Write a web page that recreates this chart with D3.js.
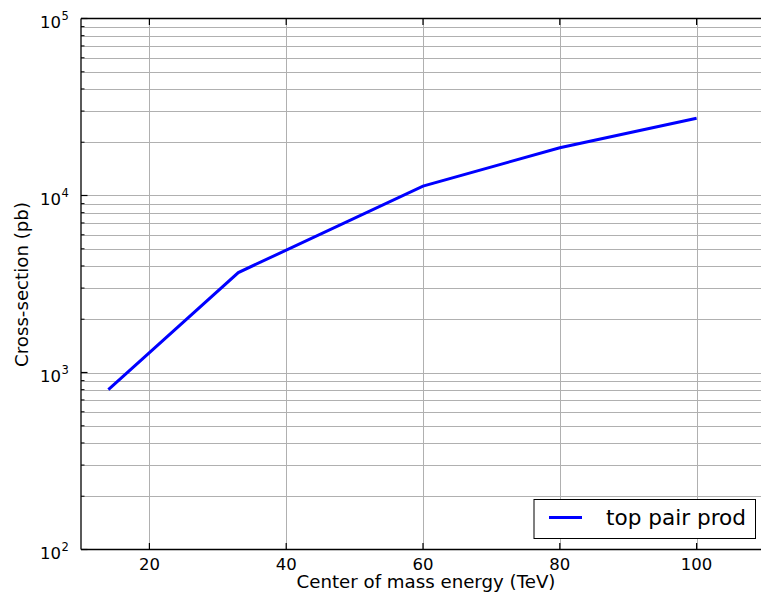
<!DOCTYPE html>
<html>
<head>
<meta charset="utf-8">
<script src="https://cdn.jsdelivr.net/npm/d3@7"></script>
<style>
  html, body { margin: 0; padding: 0; background: #fff; }
  svg { display: block; font-family: "DejaVu Sans", sans-serif; }
</style>
</head>
<body>
<svg id="chart" width="761" height="596"></svg>
<script>
// ---- data ----
const energies = [14, 33, 60, 80, 100];           // TeV
const crossSections = [800, 3670, 11300, 18600, 27300]; // pb
const seriesName = "top pair prod";
const xTicks = [20, 40, 60, 80, 100];
const yDecades = [100, 1000, 10000, 100000];
const yExponents = ["2", "3", "4", "5"];
const xLabel = "Center of mass energy (TeV)";
const yLabel = "Cross-section (pb)";

// ---- layout ----
const svg = d3.select("#chart");
const pLeft = 81, pTop = 18.5, pBottom = 549.5;
const x = d3.scaleLinear().domain([10, 110]).range([pLeft, 765]);
const y = d3.scaleLog().domain([100, 100000]).range([pBottom, pTop]);
const gridColor = "#b0b0b0";

// minor horizontal grid
const minorVals = [];
yDecades.slice(0, 3).forEach(d => { for (let k = 2; k <= 9; k++) minorVals.push(d * k); });
svg.append("g").selectAll("line").data(minorVals).join("line")
  .attr("x1", pLeft).attr("x2", 761)
  .attr("y1", d => Math.round(y(d)) + 0.5).attr("y2", d => Math.round(y(d)) + 0.5)
  .attr("stroke", gridColor).attr("stroke-width", 1);
// major horizontal grid
svg.append("g").selectAll("line").data(yDecades.slice(1, 3)).join("line")
  .attr("x1", pLeft).attr("x2", 761)
  .attr("y1", d => Math.round(y(d)) + 0.5).attr("y2", d => Math.round(y(d)) + 0.5)
  .attr("stroke", gridColor).attr("stroke-width", 1);
// vertical grid
svg.append("g").selectAll("line").data(xTicks).join("line")
  .attr("x1", d => Math.round(x(d)) + 0.5).attr("x2", d => Math.round(x(d)) + 0.5)
  .attr("y1", pTop).attr("y2", pBottom)
  .attr("stroke", gridColor).attr("stroke-width", 1);

// data line
const line = d3.line().x((d, i) => x(energies[i])).y(d => y(d));
svg.append("path").datum(crossSections)
  .attr("d", line).attr("fill", "none")
  .attr("stroke", "#0000ff").attr("stroke-width", 3);

// spines
svg.append("line").attr("x1", pLeft).attr("x2", 761).attr("y1", pTop).attr("y2", pTop)
  .attr("stroke", "#000").attr("stroke-width", 1.3);
svg.append("line").attr("x1", pLeft).attr("x2", 761).attr("y1", pBottom).attr("y2", pBottom)
  .attr("stroke", "#000").attr("stroke-width", 1.3);
svg.append("line").attr("x1", pLeft).attr("x2", pLeft).attr("y1", pTop).attr("y2", pBottom)
  .attr("stroke", "#000").attr("stroke-width", 1.3);

// x ticks (inward, bottom and top)
svg.append("g").selectAll("line").data(xTicks).join("line")
  .attr("x1", d => x(d)).attr("x2", d => x(d))
  .attr("y1", pBottom).attr("y2", pBottom - 6.5)
  .attr("stroke", "#000").attr("stroke-width", 1.2);
svg.append("g").selectAll("line").data(xTicks).join("line")
  .attr("x1", d => x(d)).attr("x2", d => x(d))
  .attr("y1", pTop).attr("y2", pTop + 6.5)
  .attr("stroke", "#000").attr("stroke-width", 1.2);
// y ticks (inward)
svg.append("g").selectAll("line").data(yDecades).join("line")
  .attr("x1", pLeft).attr("x2", pLeft + 6.5)
  .attr("y1", d => y(d)).attr("y2", d => y(d))
  .attr("stroke", "#000").attr("stroke-width", 1.2);
svg.append("g").selectAll("line").data(minorVals).join("line")
  .attr("x1", pLeft).attr("x2", pLeft + 3.5)
  .attr("y1", d => y(d)).attr("y2", d => y(d))
  .attr("stroke", "#000").attr("stroke-width", 1);

// x tick labels
svg.append("g").selectAll("text").data(xTicks).join("text")
  .attr("x", d => x(d)).attr("y", 570)
  .attr("text-anchor", "middle").attr("font-size", 16.5).attr("fill", "#000")
  .text(d => d);
// y tick labels
const yl = svg.append("g");
yDecades.forEach((d, i) => {
  yl.append("text").attr("x", 61).attr("y", y(d) + 9.4)
    .attr("text-anchor", "end").attr("font-size", 16.5).attr("fill", "#000").text("10");
  yl.append("text").attr("x", 61.5).attr("y", y(d) + 1)
    .attr("text-anchor", "start").attr("font-size", 11.5).attr("fill", "#000").text(yExponents[i]);
});

// axis labels
svg.append("text").attr("x", 426).attr("y", 587.5)
  .attr("text-anchor", "middle").attr("font-size", 18.2).attr("fill", "#000").text(xLabel);
svg.append("text").attr("transform", "translate(27.5,284.5) rotate(-90)")
  .attr("text-anchor", "middle").attr("font-size", 18.2).attr("fill", "#000").text(yLabel);

// legend
const lg = svg.append("g");
lg.append("rect").attr("x", 534).attr("y", 499.5).attr("width", 221.5).attr("height", 39)
  .attr("fill", "#fff").attr("stroke", "#000").attr("stroke-width", 1);
lg.append("line").attr("x1", 549).attr("x2", 582).attr("y1", 517.5).attr("y2", 517.5)
  .attr("stroke", "#0000ff").attr("stroke-width", 3);
lg.append("text").attr("x", 606).attr("y", 525).attr("font-size", 21.6).attr("fill", "#000").text(seriesName);
</script>
</body>
</html>
